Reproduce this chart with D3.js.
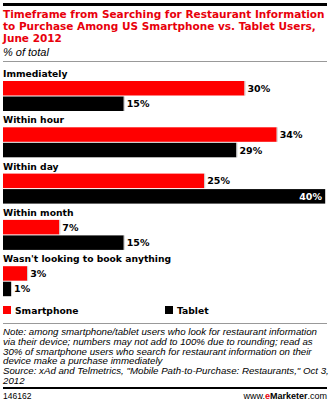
<!DOCTYPE html>
<html><head><meta charset="utf-8">
<script src="https://cdn.jsdelivr.net/npm/d3@7"></script>
<style>body{margin:0;background:#fff}svg{display:block}</style>
</head><body>
<script>
const categories = ["Immediately","Within hour","Within day","Within month","Wasn't looking to book anything"];
const smartphone = [30,34,25,7,3];
const tablet = [15,29,40,15,1];
const seriesNames = ["Smartphone","Tablet"];
const colors = ["#ff0000","#000000"];
const titleLines = ["Timeframe from Searching for Restaurant Information","to Purchase Among US Smartphone vs. Tablet Users,","June 2012"];
const subtitle = "% of total";
const noteLines = ["Note: among smartphone/tablet users who look for restaurant information","via their device; numbers may not add to 100% due to rounding; read as","30% of smartphone users who search for restaurant information on their","device make a purchase immediately","Source: xAd and Telmetrics, \"Mobile Path-to-Purchase: Restaurants,\" Oct 3,","2012"];
const chartId = "146162";

const W=334,H=401;
const svg=d3.select("body").append("svg").attr("width",W).attr("height",H);
const sans="'Liberation Sans', Arial, sans-serif";
const dv="'DejaVu Sans', Verdana, sans-serif";

svg.append("rect").attr("x",3).attr("y",3).attr("width",324).attr("height",3).attr("fill","#000");
svg.selectAll("text.title").data(titleLines).join("text").attr("class","title")
 .attr("x",3).attr("y",(d,i)=>18+i*12).attr("fill","#e8000b")
 .attr("font-family",dv).attr("font-weight","bold").attr("font-size",10.5).text(d=>d);
svg.append("text").attr("x",3).attr("y",56).attr("font-family",sans).attr("font-style","italic").attr("font-size",11).attr("fill","#000").text(subtitle);
svg.append("rect").attr("x",3).attr("y",61).attr("width",324).attr("height",1).attr("fill","#999");

const x=d3.scaleLinear().domain([0,40]).range([3,325]);
const groupY=d3.scaleLinear().domain([0,1]).range([81,127.3]);
const barH=14.5;
categories.forEach((c,i)=>{
  const y0=groupY(i);
  svg.append("text").attr("x",3).attr("y",y0-4).attr("font-family",dv).attr("font-weight","bold").attr("font-size",9.2).attr("fill","#000").text(c);
  [smartphone[i],tablet[i]].forEach((v,j)=>{
    const y=y0+j*(barH+1);
    svg.append("rect").attr("x",x(0)).attr("y",y).attr("width",x(v)-x(0)).attr("height",barH).attr("fill",colors[j]);
    svg.append("rect").attr("x",x(v)).attr("y",y).attr("width",1).attr("height",barH).attr("fill","#ccc");
    const inside = x(v)>300;
    svg.append("text").attr("x",inside?x(v)-3:x(v)+3).attr("y",y+barH/2+3.5)
      .attr("text-anchor",inside?"end":"start").attr("font-family",dv)
      .attr("font-weight","bold").attr("font-size",9.5).attr("fill",inside?"#fff":"#000").text(v+"%");
  });
});
seriesNames.forEach((s,i)=>{
  const lx=3+i*162;
  svg.append("rect").attr("x",lx).attr("y",306).attr("width",8).attr("height",8).attr("fill",colors[i]);
  svg.append("text").attr("x",lx+12).attr("y",314).attr("font-family",dv).attr("font-weight","bold").attr("font-size",9.2).attr("fill","#000").text(s);
});
svg.append("rect").attr("x",3).attr("y",323).attr("width",324).attr("height",1).attr("fill","#999");
svg.selectAll("text.note").data(noteLines).join("text").attr("class","note")
 .attr("x",3).attr("y",(d,i)=>335+i*9.8).attr("font-family",sans).attr("font-style","italic").attr("font-size",9.7).attr("fill","#000").text(d=>d);
svg.append("rect").attr("x",3).attr("y",387).attr("width",324).attr("height",2).attr("fill","#000");
svg.append("text").attr("x",3).attr("y",399).attr("font-family",sans).attr("font-size",8.5).attr("fill","#000").text(chartId);
const wm=svg.append("text").attr("x",327).attr("y",399).attr("text-anchor","end").attr("font-family",sans).attr("font-size",9).attr("fill","#000");
wm.append("tspan").text("www.");
wm.append("tspan").attr("fill","#e8000b").attr("font-weight","bold").text("e");
wm.append("tspan").attr("font-weight","bold").text("Marketer");
wm.append("tspan").text(".com");
</script>
</body></html>
